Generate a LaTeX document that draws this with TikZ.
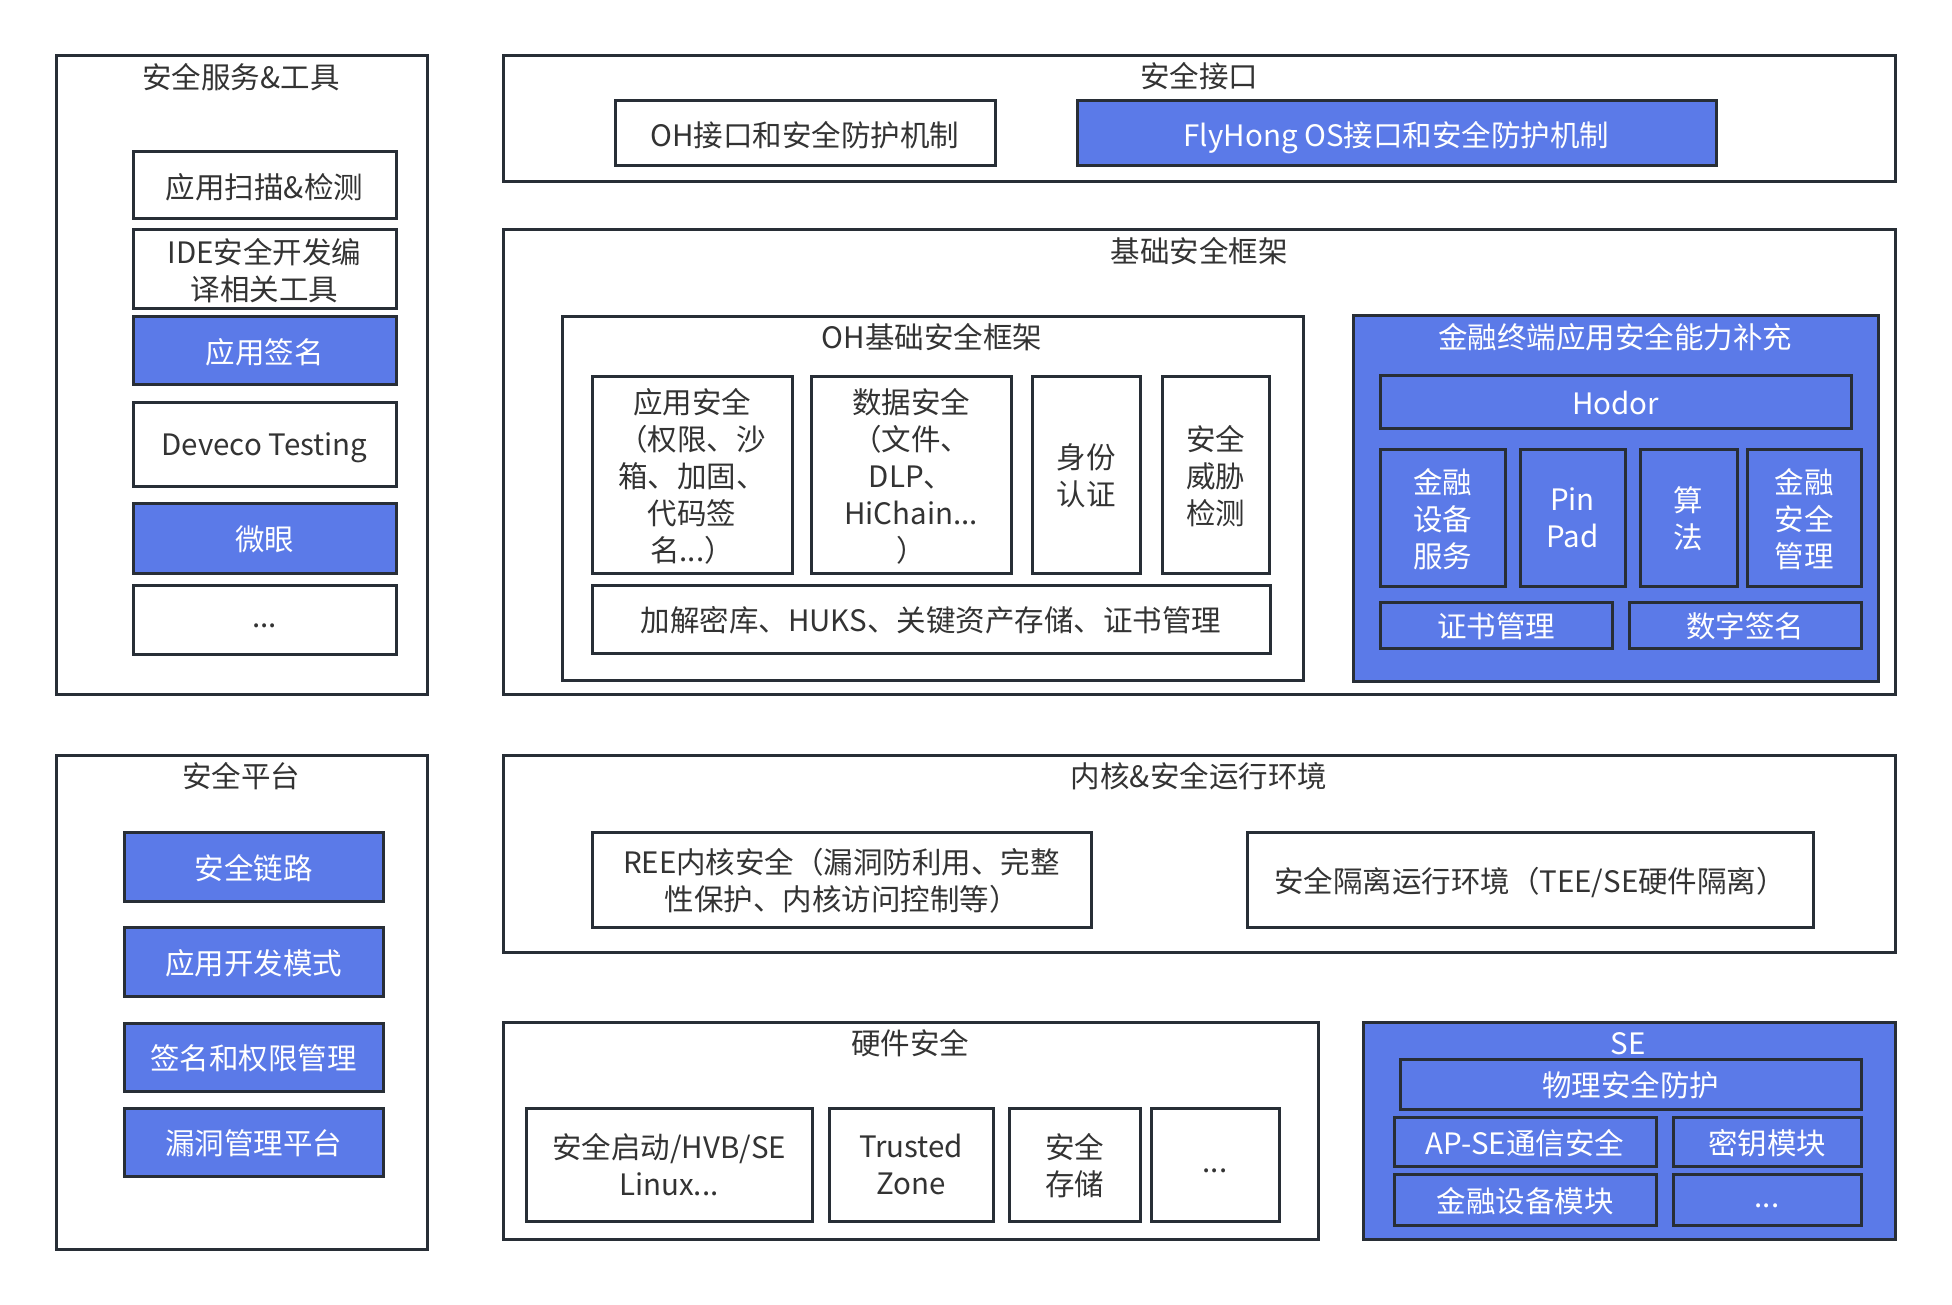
\documentclass[tikz,border=0pt]{standalone}
\usepackage{fontspec}
\setmainfont{Noto Sans CJK SC}
\definecolor{bord}{RGB}{40,46,54}
\definecolor{blu}{RGB}{91,122,232}
\definecolor{txt}{RGB}{51,51,51}
\tikzset{
 base/.style={draw=bord, line width=3pt, align=center, inner sep=0pt, text depth=0pt, font=\fontsize{29.5}{37}\selectfont},
 wbox/.style={base, fill=white, text=txt},
 bbox/.style={base, fill=blu, text=white},
 frame/.style={base, fill=white},
 bframe/.style={base, fill=blu},
 ttl/.style={text=txt, font=\fontsize{29.5}{37}\selectfont, inner sep=0pt},
 wttl/.style={ttl, text=white}
}
\newcommand\bx[7]{\node[#1, minimum width={#5-#3}, minimum height={#6-#4}] (#2) at ({(#3+#5)/2},{(#4+#6)/2}) {#7};}
\begin{document}
\begin{tikzpicture}[x=1pt,y=-1pt]
\fill[white] (0,0) rectangle (1952,1305);
\useasboundingbox (0,0) rectangle (1952,1305);
% security services & tools
\bx{frame}{svc}{56}{56}{427}{694}{}
\node[ttl] (svcT) at (241,77) {安全服务\&工具};
\bx{wbox}{s1}{133}{152}{396}{219}{应用扫描\&检测}
\bx{wbox}{s2}{133}{230}{396}{309}{IDE安全开发编\\译相关工具}
\bx{bbox}{s3}{133}{317}{396}{385}{应用签名}
\bx{wbox}{s4}{133}{403}{396}{486}{Deveco Testing}
\bx{bbox}{s5}{133}{503}{396}{573}{微眼}
\bx{wbox}{s6}{133}{585}{396}{654}{\vphantom{x}...}
% security interface
\bx{frame}{ifc}{503}{56}{1895}{182}{}
\node[ttl] (ifcT) at (1199,76) {安全接口};
\bx{wbox}{i1}{615}{101}{995}{166}{OH接口和安全防护机制}
\bx{bbox}{i2}{1077}{101}{1716}{166}{FlyHong OS接口和安全防护机制}
% basic security framework
\bx{frame}{fw}{503}{230}{1895}{694}{}
\node[ttl] (fwT) at (1199,251) {基础安全框架};
\bx{frame}{oh}{562}{317}{1303}{680}{}
\node[ttl] (ohT) at (932,337) {OH基础安全框架};
\bx{wbox}{o1}{592}{377}{792}{573}{应用安全\\（权限、沙\\箱、加固、\\代码签\\名...）}
\bx{wbox}{o2}{811}{377}{1011}{573}{数据安全\\（文件、\\DLP、\\HiChain...\\）}
\bx{wbox}{o3}{1032}{377}{1140}{573}{身份\\认证}
\bx{wbox}{o4}{1162}{377}{1269}{573}{安全\\威胁\\检测}
\bx{wbox}{o5}{592}{585}{1270}{653}{加解密库、HUKS、关键资产存储、证书管理}
\bx{bframe}{fin}{1353}{316}{1878}{681}{}
\node[wttl] (finT) at (1615,337) {金融终端应用安全能力补充};
\bx{bbox}{f1}{1380}{376}{1851}{429}{Hodor}
\bx{bbox}{f2}{1380}{449}{1505}{586}{金融\\设备\\服务}
\bx{bbox}{f3}{1520}{449}{1625}{586}{Pin\\Pad}
\bx{bbox}{f4}{1640}{449}{1737}{586}{算\\法}
\bx{bbox}{f5}{1747}{449}{1861}{586}{金融\\安全\\管理}
\bx{bbox}{f6}{1380}{602}{1612}{648}{证书管理}
\bx{bbox}{f7}{1629}{602}{1861}{648}{数字签名}
% security platform
\bx{frame}{plt}{56}{755}{427}{1249}{}
\node[ttl] (pltT) at (241,776) {安全平台};
\bx{bbox}{p1}{124}{832}{383}{901}{安全链路}
\bx{bbox}{p2}{124}{927}{383}{996}{应用开发模式}
\bx{bbox}{p3}{124}{1023}{383}{1091}{签名和权限管理}
\bx{bbox}{p4}{124}{1108}{383}{1176}{漏洞管理平台}
% kernel
\bx{frame}{ker}{503}{755}{1895}{952}{}
\node[ttl] (kerT) at (1199,776) {内核\&安全运行环境};
\bx{wbox}{k1}{592}{832}{1091}{927}{REE内核安全（漏洞防利用、完整\\性保护、内核访问控制等）}
\bx{wbox}{k2}{1247}{832}{1813}{927}{安全隔离运行环境（TEE/SE硬件隔离）}
% hardware
\bx{frame}{hw}{503}{1022}{1318}{1239}{}
\node[ttl] (hwT) at (910,1043) {硬件安全};
\bx{wbox}{h1}{526}{1108}{812}{1221}{安全启动/HVB/SE\\Linux...}
\bx{wbox}{h2}{829}{1108}{993}{1221}{Trusted\\Zone}
\bx{wbox}{h3}{1009}{1108}{1140}{1221}{安全\\存储}
\bx{wbox}{h4}{1151}{1108}{1279}{1221}{\vphantom{x}...}
% SE
\bx{bframe}{se}{1363}{1022}{1895}{1239}{}
\node[wttl] (seT) at (1628,1044) {SE};
\bx{bbox}{e1}{1400}{1059}{1861}{1109}{物理安全防护}
\bx{bbox}{e2}{1394}{1117}{1656}{1166}{AP-SE通信安全}
\bx{bbox}{e3}{1673}{1117}{1861}{1166}{密钥模块}
\bx{bbox}{e4}{1394}{1174}{1656}{1225}{金融设备模块}
\bx{bbox}{e5}{1673}{1174}{1861}{1225}{\vphantom{x}...}
\end{tikzpicture}
\end{document}
